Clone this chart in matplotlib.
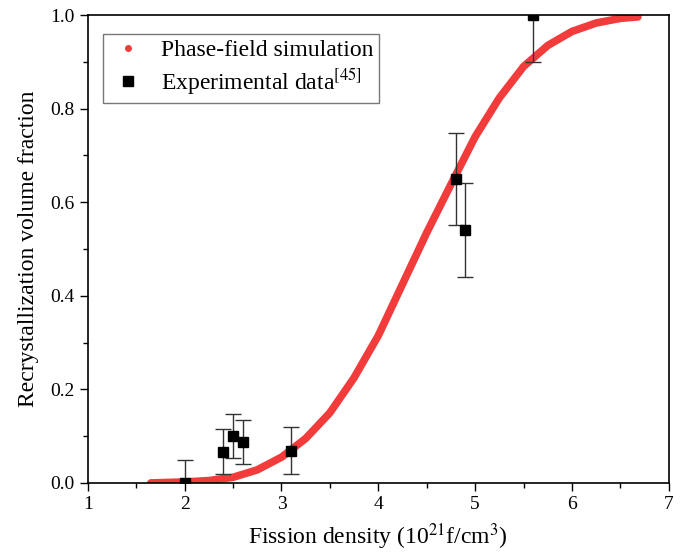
import matplotlib
matplotlib.use("Agg")
import matplotlib.pyplot as plt
from matplotlib.lines import Line2D
from matplotlib.ticker import MultipleLocator, FormatStrFormatter

plt.rcParams['font.family'] = ['Liberation Serif', 'DejaVu Serif']
plt.rcParams['mathtext.fontset'] = 'stix'

# phase-field simulation curve
sim_x = [1.65, 2.0, 2.25, 2.5, 2.75, 3.0, 3.25, 3.5, 3.75, 4.0, 4.25, 4.5,
         4.75, 5.0, 5.25, 5.5, 5.75, 6.0, 6.25, 6.5, 6.68]
sim_y = [0.0, 0.002, 0.005, 0.012, 0.028, 0.055, 0.095, 0.150, 0.225, 0.315,
         0.425, 0.535, 0.638, 0.740, 0.823, 0.890, 0.935, 0.965, 0.983, 0.993,
         0.996]

# experimental data [45]
exp_x = [2.0, 2.4, 2.5, 2.6, 3.1, 4.8, 4.9, 5.6]
exp_y = [0.0, 0.067, 0.100, 0.088, 0.069, 0.650, 0.540, 1.0]
exp_err = [0.049, 0.049, 0.047, 0.047, 0.05, 0.098, 0.10, 0.10]

fig = plt.figure(figsize=(6.86, 5.57), dpi=100)
ax = fig.add_axes([0.128, 0.133, 0.847, 0.840])

red = '#f23b3b'
ax.plot(sim_x, sim_y, color=red, lw=5.5, solid_capstyle='round',
        solid_joinstyle='round', zorder=2)
ax.errorbar(exp_x, exp_y, yerr=exp_err, fmt='s', color='black', ms=7,
            ecolor='#333333', elinewidth=1.0, capsize=6, capthick=1.0, zorder=3)

ax.set_xlim(1, 7)
ax.set_ylim(0, 1.0)
ax.xaxis.set_major_locator(MultipleLocator(1))
ax.xaxis.set_minor_locator(MultipleLocator(0.5))
ax.yaxis.set_major_locator(MultipleLocator(0.2))
ax.yaxis.set_minor_locator(MultipleLocator(0.1))
ax.yaxis.set_major_formatter(FormatStrFormatter('%.1f'))
ax.tick_params(which='both', direction='out', labelsize=14, width=1.0)
ax.tick_params(which='major', length=6)
ax.tick_params(which='minor', length=3.5)
for s in ax.spines.values():
    s.set_linewidth(1.2)

ax.set_xlabel(r'Fission density (10$^{21}$f/cm$^{3}$)', fontsize=17, labelpad=6)
ax.set_ylabel('Recrystallization volume fraction', fontsize=17, labelpad=8)

handles = [
    Line2D([], [], color=red, marker='o', ls='none', ms=4),
    Line2D([], [], color='black', marker='s', ls='none', ms=7),
]
labels = ['Phase-field simulation', r'Experimental data$^{[45]}$']
ax.legend(handles, labels, loc='upper left', bbox_to_anchor=(0.006, 0.985),
          fontsize=17, frameon=True, fancybox=False, edgecolor='#555555',
          handletextpad=0.6, borderpad=0.25, labelspacing=0.2, handlelength=1.6)

fig.savefig('out.png', dpi=100)
